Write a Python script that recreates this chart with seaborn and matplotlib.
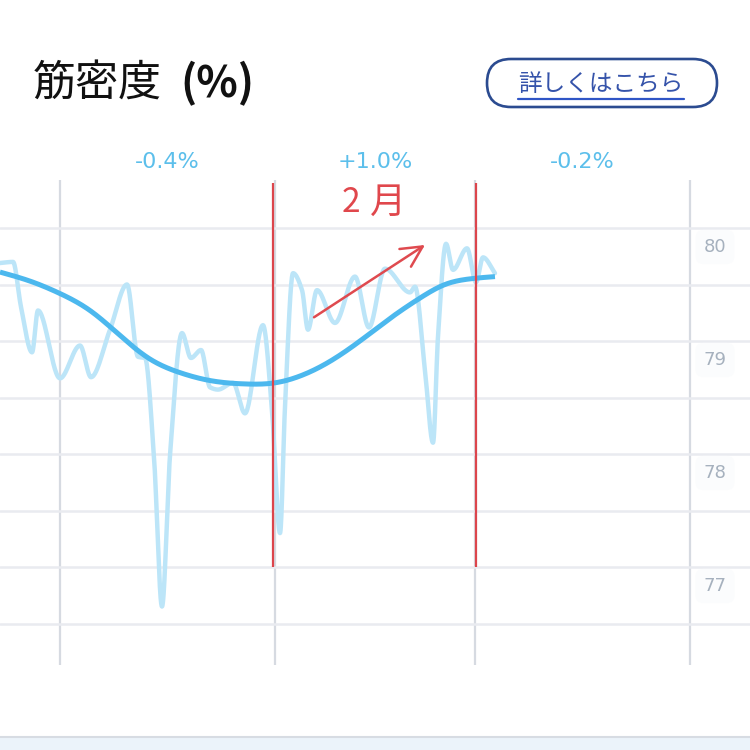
import numpy as np
import pandas as pd
import matplotlib
matplotlib.use("Agg")
import matplotlib.pyplot as plt
import seaborn as sns
from matplotlib.patches import FancyBboxPatch, Rectangle
from matplotlib.lines import Line2D

# ---------------- data ----------------
# day index: 0 = 1 Jan, 31 = 1 Feb, 60 = 1 Mar, 91 = 1 Apr
raw_day = [-8.67, -6.79, -5.63, -4.04, -3.18, 0.00, 2.89, 4.48, 7.22, 9.68,
           11.27, 12.28, 13.58, 14.73, 15.89, 17.62, 18.92, 20.37, 21.67, 22.82,
           24.99, 26.72, 29.32, 30.62, 31.78, 32.50, 33.66, 34.96, 35.82, 37.12,
           39.72, 42.61, 44.63, 46.94, 50.56, 51.28, 52.72, 53.88, 54.60, 55.76,
           56.77, 58.79, 60.09, 61.10, 62.83]
raw_value = [79.69, 79.70, 79.30, 78.90, 79.27, 78.67, 78.96, 78.68, 79.10, 79.50,
             78.86, 78.85, 77.97, 76.65, 77.99, 79.07, 78.85, 78.92, 78.59, 78.57,
             78.63, 78.36, 79.14, 78.39, 77.30, 78.42, 79.60, 79.45, 79.10, 79.45,
             79.16, 79.57, 79.12, 79.64, 79.43, 79.48, 78.74, 78.10, 79.04, 79.86,
             79.63, 79.82, 79.52, 79.74, 79.60]

trend_day = [-8.67, -4.33, 0.00, 4.33, 9.39, 13.00, 17.33, 21.67, 26.72, 31.06,
             34.67, 39.00, 43.33, 47.67, 52.00, 55.61, 59.22, 62.83]
trend_value = [79.61, 79.53, 79.42, 79.27, 79.01, 78.84, 78.72, 78.65, 78.62, 78.63,
               78.69, 78.82, 79.00, 79.20, 79.38, 79.50, 79.55, 79.57]

month_bounds = [0, 31, 60, 91]
month_centers = [15.5, 45.5, 75.5]
month_change_labels = ["-0.4%", "+1.0%", "-0.2%"]
y_grid = [76.5, 77.0, 77.5, 78.0, 78.5, 79.0, 79.5, 80.0]
y_labels = [80, 79, 78, 77]

marker_days = [30.8, 60.1]          # red hand-drawn lines
marker_range = [77.0, 80.40]
arrow_start = (36.69, 79.21)
arrow_end = (52.72, 79.85)

title_main = "筋密度"
title_unit = "(%)"
button_text = "詳しくはこちら"
note_num = "2"
note_month = "月"


def pchip(x, y, n=40):
    x = np.asarray(x, float)
    y = np.asarray(y, float)
    h = np.diff(x)
    delta = np.diff(y) / h
    d = np.zeros_like(y)
    for k in range(1, len(x) - 1):
        if delta[k - 1] * delta[k] > 0:
            w1 = 2 * h[k] + h[k - 1]
            w2 = h[k] + 2 * h[k - 1]
            d[k] = (w1 + w2) / (w1 / delta[k - 1] + w2 / delta[k])
    d[0] = delta[0]
    d[-1] = delta[-1]
    xs, ys = [], []
    for k in range(len(x) - 1):
        t = np.linspace(0, 1, n, endpoint=False)
        h00 = 2 * t**3 - 3 * t**2 + 1
        h10 = t**3 - 2 * t**2 + t
        h01 = -2 * t**3 + 3 * t**2
        h11 = t**3 - t**2
        xs.append(x[k] + t * h[k])
        ys.append(h00 * y[k] + h10 * h[k] * d[k] + h01 * y[k + 1] + h11 * h[k] * d[k + 1])
    xs.append([x[-1]])
    ys.append([y[-1]])
    return np.concatenate(xs), np.concatenate(ys)


def natural_spline(x, y, n=30):
    x = np.asarray(x, float)
    y = np.asarray(y, float)
    m = len(x)
    h = np.diff(x)
    A = np.zeros((m, m))
    b = np.zeros(m)
    A[0, 0] = 1
    A[-1, -1] = 1
    for i in range(1, m - 1):
        A[i, i - 1] = h[i - 1]
        A[i, i] = 2 * (h[i - 1] + h[i])
        A[i, i + 1] = h[i]
        b[i] = 6 * ((y[i + 1] - y[i]) / h[i] - (y[i] - y[i - 1]) / h[i - 1])
    M = np.linalg.solve(A, b)
    xs, ys = [], []
    for i in range(m - 1):
        t = np.linspace(x[i], x[i + 1], n, endpoint=False)
        a = x[i + 1] - t
        c = t - x[i]
        s = (M[i] * a**3 + M[i + 1] * c**3) / (6 * h[i]) \
            + (y[i] / h[i] - M[i] * h[i] / 6) * a \
            + (y[i + 1] / h[i] - M[i + 1] * h[i] / 6) * c
        xs.append(t)
        ys.append(s)
    xs.append([x[-1]])
    ys.append([y[-1]])
    return np.concatenate(xs), np.concatenate(ys)


sns.set_theme(style="white")
plt.rcParams["font.family"] = ["DejaVu Sans", "Noto Sans CJK JP"]

fig = plt.figure(figsize=(7.5, 7.5), dpi=100)
fig.patch.set_facecolor("white")

# plot area: x 0..750 px, y 180..665 px
ax = fig.add_axes([0, 85 / 750, 1, 485 / 750])
ax.set_facecolor("white")
px_per_day = 630 / 91
ax.set_xlim(-60 / px_per_day, 690 / px_per_day)
top = 80 + 48 / 113
bottom = 80 - 437 / 113
ax.set_ylim(bottom, top)

for s in ax.spines.values():
    s.set_visible(False)
ax.set_xticks(month_bounds)
ax.set_yticks(y_grid)
ax.tick_params(length=0, labelbottom=False, labelleft=False)
ax.xaxis.grid(True, color="#d6dae1", lw=1.6)
ax.yaxis.grid(True, color="#e9ebf0", lw=1.8)
ax.set_axisbelow(True)

rx, ry = pchip(raw_day, raw_value, 30)
tx, ty = natural_spline(trend_day, trend_value, 30)
raw_df = pd.DataFrame({"day": rx, "value": ry})
trend_df = pd.DataFrame({"day": tx, "value": ty})
sns.lineplot(data=raw_df, x="day", y="value", sort=False, estimator=None,
             color="#bce5f8", lw=3.2, ax=ax, zorder=2,
             solid_capstyle="round", solid_joinstyle="round")
sns.lineplot(data=trend_df, x="day", y="value", sort=False, estimator=None,
             color="#4cb8ee", lw=3.6, ax=ax, zorder=3, solid_capstyle="butt")
ax.set_xlabel("")
ax.set_ylabel("")

# red hand annotations
ax.vlines(marker_days, marker_range[0], marker_range[1], color="#dc454c", lw=1.6, zorder=5)
ax.annotate("", xy=arrow_end, xytext=arrow_start,
            arrowprops=dict(arrowstyle="->,head_length=0.75,head_width=0.38",
                            color="#df4a4f", lw=1.8, mutation_scale=20,
                            shrinkA=0, shrinkB=0), zorder=6)

# y labels (slightly below their grid line)
for v in y_labels:
    ax.text(655 / px_per_day, v - 19 / 113, str(v), ha="center", va="center",
            fontsize=13, color="#a6b1be", clip_on=False,
            bbox=dict(boxstyle="round,pad=0.45", fc="#fbfcfd", ec="none"))

# monthly change labels above plot
for c, lab in zip(month_centers, month_change_labels):
    ax.text(c, top + 18 / 113, lab, ha="center", va="center", fontsize=16,
            color="#5cbfeb", clip_on=False)

# title
fig.text(33 / 750, 1 - 97 / 750, title_main, fontsize=31, color="#111111",
         family=["Noto Sans CJK JP", "DejaVu Sans"], ha="left", va="baseline")
fig.text(180 / 750, 1 - 97 / 750, title_unit, fontsize=31, color="#111111",
         fontweight="bold", family=["Noto Sans CJK JP", "DejaVu Sans"],
         ha="left", va="baseline")

# button
box = FancyBboxPatch((487 / 750, 1 - 107 / 750), 230 / 750, 48 / 750,
                     boxstyle="round,pad=0,rounding_size=0.032",
                     transform=fig.transFigure, fill=False, ec="#2b4b90", lw=1.9)
fig.add_artist(box)
fig.text(601 / 750, 1 - 91 / 750, button_text, fontsize=17, color="#3553aa",
         family=["Noto Sans CJK JP", "DejaVu Sans"], ha="center", va="baseline")
fig.add_artist(Line2D([518 / 750, 684 / 750], [1 - 99 / 750, 1 - 99 / 750],
                      transform=fig.transFigure, color="#2f55c6", lw=1.6))

# hand-written "2月"
fig.text(351 / 750, 1 - 212 / 750, note_num, fontsize=24, color="#e0474c",
         family=["Noto Sans CJK JP", "DejaVu Sans"], ha="center", va="baseline")
fig.text(388 / 750, 1 - 213 / 750, note_month, fontsize=26, color="#e0474c",
         family=["Noto Sans CJK JP", "DejaVu Sans"], ha="center", va="baseline")

# bottom strip
fig.add_artist(Rectangle((0, 0), 1, 13 / 750, transform=fig.transFigure,
                         fc="#ebf3fa", ec="none"))
fig.add_artist(Line2D([0, 1], [13 / 750, 13 / 750], transform=fig.transFigure,
                      color="#d7dce3", lw=1.5))

fig.savefig("out.png", dpi=100, facecolor="white")
